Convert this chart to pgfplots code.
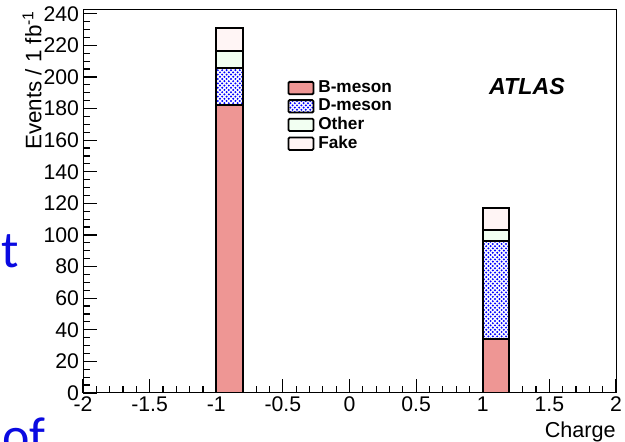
\documentclass[border=0pt]{standalone}
\usepackage{pgfplots}
\pgfplotsset{compat=1.18}
\usepackage{fontspec}
\setmainfont{Liberation Sans}
\newfontfamily\slidefont{Carlito}
\usetikzlibrary{patterns}
\definecolor{bmes}{RGB}{238,150,148}
\definecolor{slideblue}{RGB}{10,10,225}
\pgfdeclarepatternformonly{bdots}{\pgfqpoint{-0.6pt}{-0.6pt}}{\pgfqpoint{1.7pt}{1.7pt}}{\pgfqpoint{2.2pt}{2.2pt}}{%
  \pgfpathcircle{\pgfqpoint{0pt}{0pt}}{0.55pt}%
  \pgfpathcircle{\pgfqpoint{1.1pt}{1.1pt}}{0.55pt}%
  \pgfusepath{fill}}
\begin{document}
\begin{tikzpicture}[x=1pt,y=1pt]
\useasboundingbox (0,0) rectangle (312.5,221);
\node[anchor=base west, inner sep=0, text=slideblue, font=\slidefont\fontsize{26}{30}\selectfont] at (0.5,87) {t};
\node[anchor=base west, inner sep=0, text=slideblue, font=\slidefont\fontsize{26}{30}\selectfont] at (1,-6) {of};
\begin{axis}[
  at={(41.5pt,24.5pt)}, anchor=south west,
  scale only axis, width=266.5pt, height=191.5pt,
  xmin=-2, xmax=2, ymin=0, ymax=242.4,
  axis line style={line width=0.5pt},
  xtick={-2,-1.5,...,2}, minor x tick num=4,
  ytick={0,20,...,240}, minor y tick num=3,
  tick align=inside, tick pos=left,
  major tick length=7pt, minor tick length=3.5pt,
  every tick/.style={black, line width=0.6pt},
  /pgf/number format/assume math mode=true,
  ticklabel style={font=\fontsize{10.6}{12}\selectfont},
  xticklabel style={yshift=1.5pt},
  yticklabel style={xshift=1.5pt},
  xlabel={Charge},
  ylabel={Events / 1 fb\textsuperscript{-1}},
  x label style={at={(axis description cs:1,0)}, anchor=north east, inner sep=0pt, yshift=-14pt, font=\fontsize{10.8}{12}\selectfont},
  y label style={at={(axis description cs:-0.077,1)}, anchor=south east, inner sep=0pt, font=\fontsize{11.2}{13}\selectfont},
  ybar stacked, bar width=0.2,
  legend style={draw=none, fill=none, at={(axis description cs:0.383,0.827)}, anchor=north west,
    font=\fontsize{8.6}{9}\selectfont\bfseries, row sep=-2.3pt, inner sep=0pt,
    /tikz/every even column/.append style={column sep=2pt}},
  legend cell align=left,
  legend image code/.code={\draw[#1, line width=0.9pt, rounded corners=0.6pt] (0pt,-3.1pt) rectangle (12.5pt,3.1pt);},
]
\addplot[fill=bmes, draw=black, line width=1pt] coordinates {(-0.9,182) (1.1,34)};
\addlegendentry{B-meson}
\addplot[pattern=bdots, pattern color=blue, draw=black, line width=1pt] coordinates {(-0.9,23.5) (1.1,62.5)};
\addlegendentry{D-meson}
\addplot[fill=white!95!green, draw=black, line width=1pt] coordinates {(-0.9,11) (1.1,6.5)};
\addlegendentry{Other}
\addplot[fill=white!96!red, draw=black, line width=1pt] coordinates {(-0.9,14.5) (1.1,14)};
\addlegendentry{Fake}
\node[font=\fontsize{11.6}{13}\selectfont\bfseries\itshape, anchor=center] at (axis description cs:0.833,0.799) {ATLAS};
\end{axis}
\end{tikzpicture}
\end{document}
